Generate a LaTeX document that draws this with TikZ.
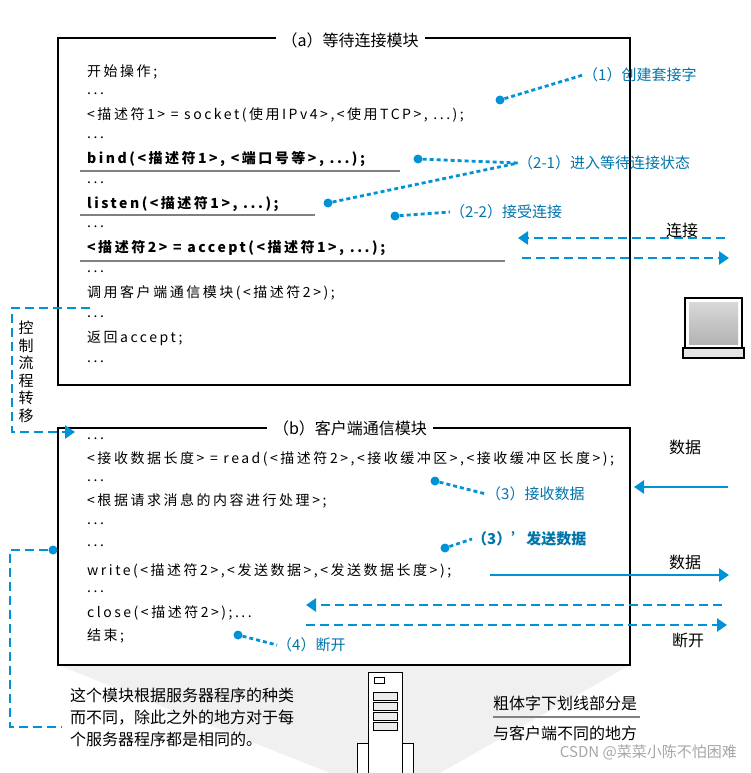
\documentclass[tikz,border=0pt]{standalone}
\usepackage{fontspec}
\setmainfont{Noto Sans CJK SC}
\newfontfamily\codef{Noto Sans CJK SC}[LetterSpace=18]
\usetikzlibrary{arrows.meta}
\definecolor{myblue}{RGB}{0,146,214}
\begin{document}
\begin{tikzpicture}[x=1pt,y=-1pt,
  code/.style={anchor=west,inner sep=0,font=\codef\fontsize{14}{16}\selectfont},
  bcode/.style={code,font=\codef\fontsize{14}{16}\selectfont\bfseries},
  lbl/.style={anchor=west,inner sep=0,text=myblue!80!black,font=\fontsize{15}{17}\selectfont},
  blk/.style={inner sep=0,font=\fontsize{16}{18}\selectfont},
  dot/.style={circle,fill=myblue,inner sep=0,minimum size=9},
  dl/.style={myblue,line width=2.8,dash pattern=on 4 off 3},
  dd/.style={myblue,line width=2.8,dash pattern=on 9 off 5},
  tip/.style={-{Triangle[length=10,width=13]}},
  box/.style={line width=2}]
\useasboundingbox (0,0) rectangle (751,773);
% shadow beam
\fill[gray!12] (58,665) -- (630,665) -- (440,773) -- (330,773) -- cycle;
% box a
\draw[box,fill=white] (58,38) rectangle (630,385);
\node[blk,fill=white,inner xsep=6] (ta) at (350,40) {（a）等待连接模块};
\node[code] (a1) at (87,72) {开始操作;};
\node[code] (a2) at (87,94) {...};
\node[code] (a3) at (87,115) {<描述符1> = socket(使用IPv4>,<使用TCP>, ...);};
\node[code] (a4) at (87,138) {...};
\node[bcode] (a5) at (87,159) {bind(<描述符1>, <端口号等>, ...);};
\node[code] (a6) at (87,183) {...};
\node[bcode] (a7) at (87,204) {listen(<描述符1>, ...);};
\node[code] (a8) at (87,227) {...};
\node[bcode] (a9) at (87,248) {<描述符2> = accept(<描述符1>, ...);};
\node[code] (a10) at (87,272) {...};
\node[code] (a11) at (87,293) {调用客户端通信模块(<描述符2>);};
\node[code] (a12) at (87,317) {...};
\node[code] (a13) at (87,338) {返回accept;};
\node[code] (a14) at (87,362) {...};
\draw[gray,line width=1.3] (80,171) -- (400,171) (80,215) -- (315,215) (80,261) -- (505,261);
% annotations a
\node[dot] (d1) at (500,100) {};
\node[lbl] (l1) at (583,75) {（1）创建套接字};
\draw[dl] (d1) -- (l1.west);
\node[dot] (d21) at (418,159) {};
\node[lbl] (l21) at (518,163) {（2-1）进入等待连接状态};
\draw[dl] (d21) -- (l21.west);
\node[dot] (d21b) at (328,203) {};
\draw[dl] (d21b) -- (l21.west);
\node[dot] (d22) at (395,216) {};
\node[lbl] (l22) at (450,212) {（2-2）接受连接};
\draw[dl] (d22) -- (l22.west);
\node[blk] (conn) at (682,230) {连接};
\coordinate (c1) at (725,238); \coordinate (c2) at (518,238);
\coordinate (c3) at (522,258); \coordinate (c4) at (729,258);
\draw[dd,tip] (c1) -- (c2);
\draw[dd,tip] (c3) -- (c4);
% monitor
\draw[line width=1.2,fill=white] (685,298) rectangle (742,348);
\shade[top color=gray!30,bottom color=gray!60] (689,302) rectangle (738,344);
\draw[line width=1.2,fill=gray!20] (683,348) rectangle (744,358);
% box b
\draw[box,fill=white] (58,428) rectangle (630,665);
\node[blk,fill=white,inner xsep=6] (tb) at (350,428) {（b）客户端通信模块};
\node[code] (b1) at (87,439) {...};
\node[code] (b2) at (87,459) {<接收数据长度> = read(<描述符2>,<接收缓冲区>,<接收缓冲区长度>);};
\node[code] (b3) at (87,481) {...};
\node[code] (b4) at (87,501) {<根据请求消息的内容进行处理>;};
\node[code] (b5) at (87,524) {...};
\node[code] (b6) at (87,546) {...};
\node[code] (b7) at (87,571) {write(<描述符2>,<发送数据>,<发送数据长度>);};
\node[code] (b8) at (87,592) {...};
\node[code] (b9) at (87,613) {close(<描述符2>);...};
\node[code] (b10) at (87,636) {结束;};
\node[dot] (d3) at (435,481) {};
\node[lbl] (l3) at (486,494) {（3）接收数据};
\draw[dl] (d3) -- (l3.west);
\node[dot] (d3b) at (445,548) {};
\node[lbl,font=\fontsize{15}{17}\selectfont\bfseries] (l3b) at (472,539) {（3）’发送数据};
\draw[dl] (d3b) -- (l3b.west);
\node[dot] (d4) at (238,635) {};
\node[lbl] (l4) at (277,645) {（4）断开};
\draw[dl] (d4) -- (l4.west);
\node[blk] (data1) at (685,447) {数据};
\coordinate (r1) at (728,487); \coordinate (r2) at (634,487);
\draw[myblue,line width=2.6,tip] (r1) -- (r2);
\node[blk] (data2) at (685,562) {数据};
\coordinate (w1) at (490,575); \coordinate (w2) at (729,575);
\draw[myblue,line width=2.6,tip] (w1) -- (w2);
\coordinate (k1) at (722,605); \coordinate (k2) at (306,605);
\coordinate (k3) at (306,625); \coordinate (k4) at (727,625);
\draw[dd,tip] (k1) -- (k2);
\draw[dd,tip] (k3) -- (k4);
\node[blk] (dk) at (688,640) {断开};
% control flow
\coordinate (f0) at (90,308); \coordinate (f1) at (75,432);
\draw[dd,tip] (f0) -- (12,308) -- (12,432) -- (f1);
\node[blk,fill=white,align=center,inner ysep=2,font=\fontsize{15}{17.5}\selectfont] (ctl) at (26,372) {控\\制\\流\\程\\转\\移};
\node[dot] (d5) at (53,550) {};
\coordinate (g1) at (62,727);
\draw[dd] (d5) -- (10,550) -- (10,727) -- (g1);
% bottom texts
\node[blk,anchor=north west,align=left,font=\fontsize{16}{22}\selectfont] (note) at (70,688) {这个模块根据服务器程序的种类\\而不同，除此之外的地方对于每\\个服务器程序都是相同的。};
\node[blk,anchor=west] (n1) at (493,703) {粗体字下划线部分是};
\node[blk,anchor=west] (n2) at (493,733) {与客户端不同的地方};
\draw[gray,line width=1.2] (493,717) -- (640,717);
% server
\draw[line width=1,fill=white] (368,672) rectangle (402,773);
\foreach \yy in {692,702,712,722} \draw[line width=0.8,fill=gray!15] (373,\yy) rectangle (397,\yy+8);
\draw[line width=0.8] (374,677) rectangle (384,683);
\draw[line width=1,fill=white] (357,743) rectangle (368,773) (402,743) rectangle (413,773);
\node[blk,anchor=east,text=gray!70,font=\fontsize{15}{17}\selectfont] (wm) at (737,752) {CSDN @菜菜小陈不怕困难};
\end{tikzpicture}
\end{document}
